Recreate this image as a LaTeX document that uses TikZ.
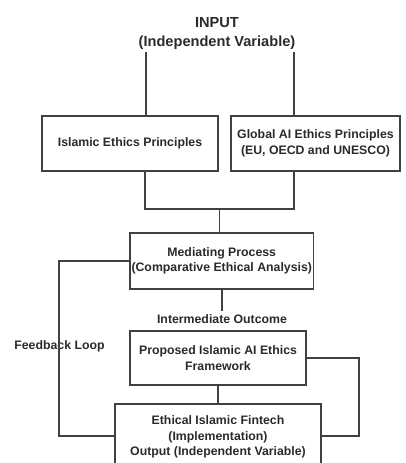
\documentclass[tikz,border=0pt]{standalone}
\usepackage{fontspec}
\setmainfont{Liberation Sans}
\definecolor{txt}{HTML}{2A2A2A}
\definecolor{ln}{HTML}{404040}
\begin{document}
\begin{tikzpicture}[x=1pt,y=-1pt,
  box/.style={draw=ln,line width=1.6pt,rectangle,inner sep=0pt,align=center,text=txt,
    font=\fontsize{12.3}{15.6}\selectfont\bfseries},
  lbl/.style={text=txt,align=center,inner sep=0pt,font=\fontsize{12.3}{15.6}\selectfont\bfseries},
  conn/.style={draw=ln,line width=1.1pt}]
\useasboundingbox (0,0) rectangle (405,463);
\begin{scope}
\clip (0,0) rectangle (405,463);
\node[lbl,font=\fontsize{14.6}{19}\selectfont\bfseries] (title) at (217,33) {INPUT\\(Independent Variable)};
\node[box,minimum width=176pt,minimum height=55pt] (b1) at (130,143.5) {Islamic Ethics Principles};
\node[box,minimum width=169pt,minimum height=55pt] (b2) at (315.5,143.5) {Global AI Ethics Principles\\(EU, OECD and UNESCO)};
\node[box,minimum width=183.5pt,minimum height=56pt] (med) at (221.75,261) {Mediating Process\\(Comparative Ethical Analysis)};
\node[lbl] (inter) at (222,319) {Intermediate Outcome};
\node[box,minimum width=176pt,minimum height=54pt] (prop) at (218,358) {Proposed Islamic AI Ethics\\Framework};
\node[box,minimum width=206pt,minimum height=66pt] (eth) at (218,437) {Ethical Islamic Fintech\\(Implementation)\\Output (Independent Variable)};
\node[lbl] (fb) at (59.5,346) {Feedback Loop};
\coordinate (tl) at (146,52);
\coordinate (tr) at (294,52);
\coordinate (jl) at (145,209);
\coordinate (jr) at (294,209);
\coordinate (jm) at (219.5,209);
\coordinate (fl) at (59,261);
\coordinate (fb2) at (59,436);
\coordinate (rr) at (359,358);
\coordinate (rb) at (359,436);
\draw[conn] (tl) -- (tl |- b1.north);
\draw[conn] (tr) -- (tr |- b2.north);
\draw[conn] (jl |- b1.south) -- (jl) -- (jr) -- (jr |- b2.south);
\draw[conn] (jm) -- (jm |- med.north);
\draw[conn] (med.west) -- (fl) -- (fb2) -- (fb2 -| eth.west);
\draw[conn] (inter.north -| 222,0) ++(0,-3) -- (222,0 |- med.south);
\draw[conn] (prop.south) -- (eth.north);
\draw[conn] (prop.east) -- (rr) -- (rb) -- (rb -| eth.east);
\end{scope}
\end{tikzpicture}
\end{document}
